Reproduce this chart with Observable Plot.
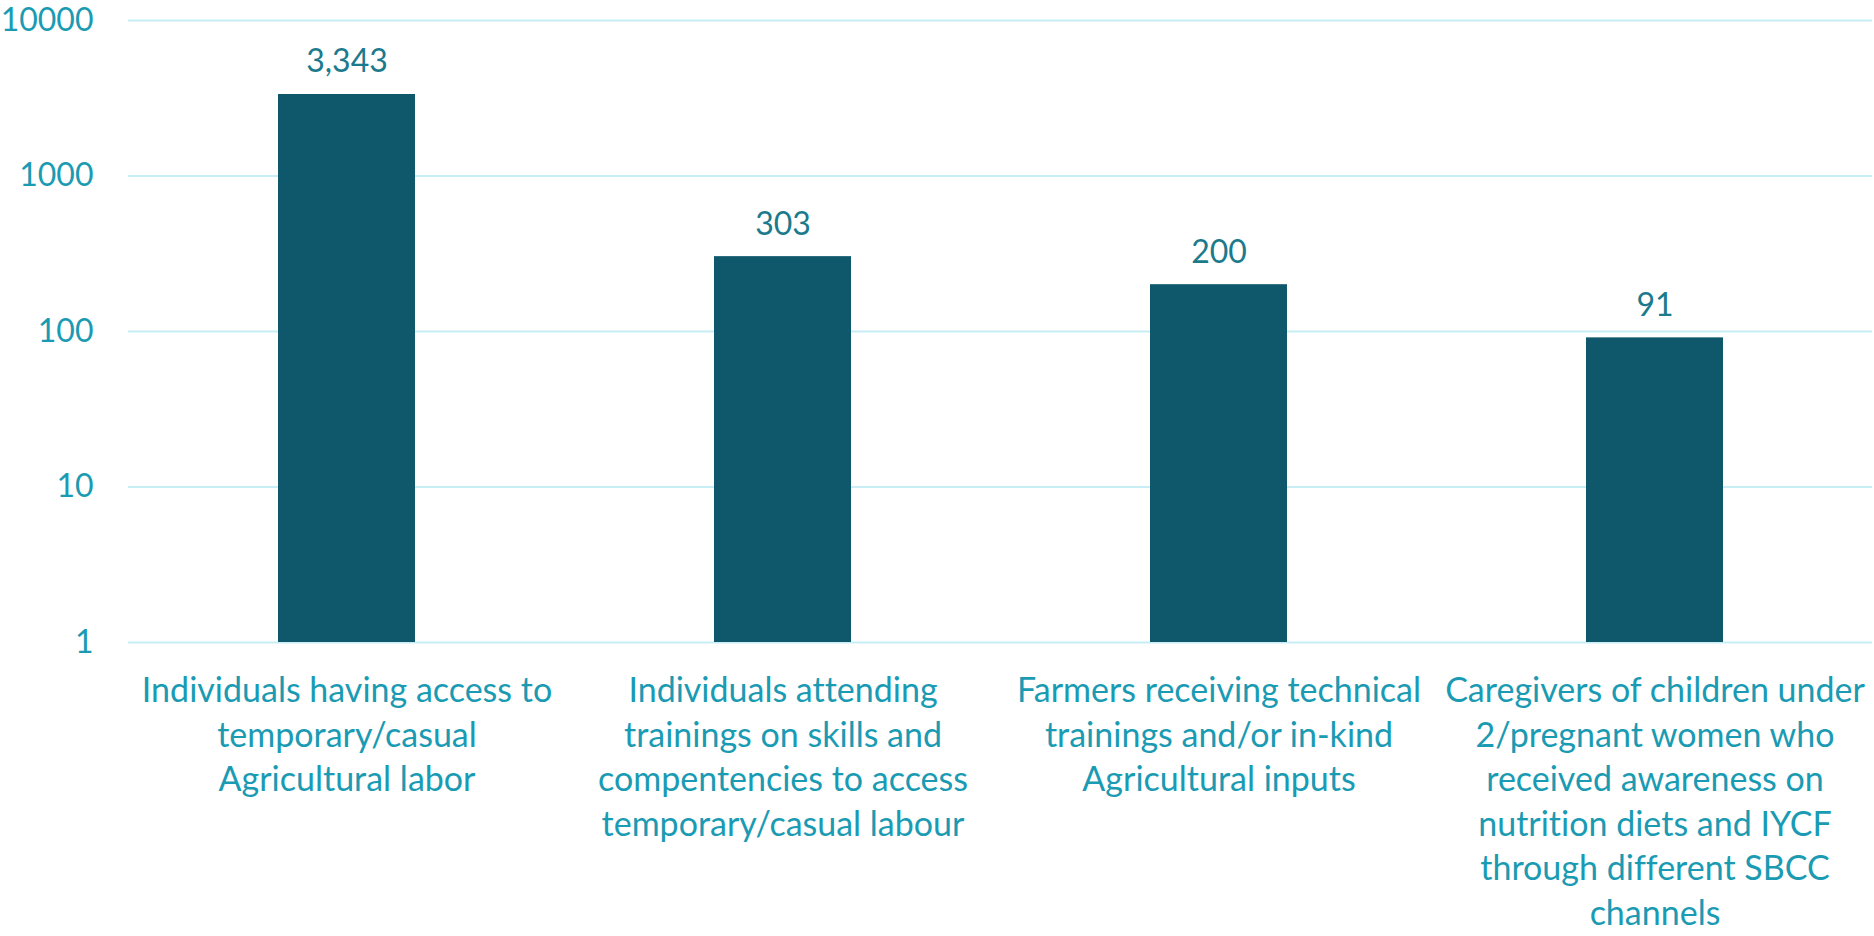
<!DOCTYPE html>
<html>
<head>
<meta charset="utf-8">
<script src="https://cdn.jsdelivr.net/npm/d3@7"></script>
<script src="https://cdn.jsdelivr.net/npm/@observablehq/plot@0.6"></script>
<style>
  html, body { margin: 0; padding: 0; background: #ffffff; }
  svg text { font-variant-ligatures: none; font-feature-settings: "liga" 0; }
</style>
</head>
<body>
<div id="chart"></div>
<script>
const categories = [
  "Individuals having access to\ntemporary/casual\nAgricultural labor",
  "Individuals attending\ntrainings on skills and\ncompentencies to access\ntemporary/casual labour",
  "Farmers receiving technical\ntrainings and/or in-kind\nAgricultural inputs",
  "Caregivers of children under\n2/pregnant women who\nreceived awareness on\nnutrition diets and IYCF\nthrough different SBCC\nchannels"
];
const values = [3343, 303, 200, 91];
const yTicks = [1, 10, 100, 1000, 10000];

const data = categories.map((c, i) => ({category: c, value: values[i]}));

const chart = Plot.plot({
  width: 1874,
  height: 936,
  marginLeft: 128,
  marginRight: 2,
  marginTop: 20,
  marginBottom: 294,
  style: {fontFamily: "Lato, sans-serif", background: "#ffffff"},
  x: {domain: categories, paddingInner: 0.686, paddingOuter: 0.343, label: null},
  y: {type: "log", domain: [1, 10000], label: null},
  marks: [
    Plot.gridY(yTicks, {stroke: "#C8EEF5", strokeOpacity: 1, strokeWidth: 2}),
    Plot.barY(data, {x: "category", y1: 1, y2: "value", fill: "#0F586C"}),
    Plot.text(data, {
      x: "category", y: "value",
      text: d => d3.format(",")(d.value),
      lineAnchor: "bottom", dy: -22,
      fill: "#1B7A8C", fontSize: 32
    }),
    Plot.axisY({
      ticks: yTicks, tickFormat: d => String(d), tickSize: 0, tickPadding: 35,
      fontSize: 32, color: "#1A9BB3", label: null
    }),
    Plot.axisX({
      tickSize: 0, tickPadding: 28, fontSize: 34, lineHeight: 1.31,
      color: "#1A9BB3", label: null, textOverflow: null
    })
  ]
});
document.getElementById("chart").appendChild(chart);
</script>
</body>
</html>
